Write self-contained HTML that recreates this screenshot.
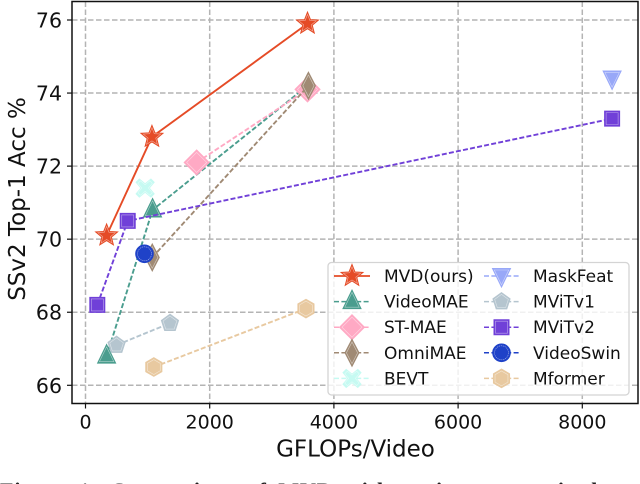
<!DOCTYPE html>
<html>
<head>
<meta charset="utf-8">
<style>
html,body{margin:0;padding:0;background:#fff;width:640px;height:484px;overflow:hidden}
#page{position:absolute;left:0;top:0;width:640px;height:484px;overflow:hidden;background:#fff}
svg{display:block;position:absolute;left:0;top:0;filter:blur(0.35px)}
text{font-family:"DejaVu Sans","Liberation Sans",sans-serif;fill:#111}
#caption{position:absolute;left:0;top:478px;white-space:nowrap;font:bold 22px "Liberation Serif",serif;color:#222;word-spacing:5px;letter-spacing:.9px}
</style>
</head>
<body>
<div id="page">
<svg id="chart" width="640" height="484" viewBox="0 0 640 484" xmlns="http://www.w3.org/2000/svg"></svg>
<div id="caption">Figure 1: Comparison of MVD with various supervised</div>
</div>
<script>
const xTicks = [0, 2000, 4000, 6000, 8000];
const yTicks = [66, 68, 70, 72, 74, 76];
const seriesNames = ['MVD(ours)', 'VideoMAE', 'ST-MAE', 'OmniMAE', 'BEVT', 'MaskFeat', 'MViTv1', 'MViTv2', 'VideoSwin', 'Mformer'];
const mvdX = [340, 1070, 3575];
const mvdY = [70.1, 72.8, 75.9];
const videoMaeX = [340, 1080, 3575];
const videoMaeY = [66.8, 70.8, 74.2];
const stMaeX = [1790, 3575];
const stMaeY = [72.1, 74.1];
const omniMaeX = [1075, 3590];
const omniMaeY = [69.5, 74.2];
const bevtX = [960];
const bevtY = [71.4];
const maskFeatX = [8480];
const maskFeatY = [74.4];
const mvit1X = [500, 1360];
const mvit1Y = [67.1, 67.7];
const mvit2X = [190, 680, 8480];
const mvit2Y = [68.2, 70.5, 73.3];
const swinX = [950];
const swinY = [69.6];
const mformerX = [1100, 3550];
const mformerY = [66.5, 68.1];
const allX = [mvdX, videoMaeX, stMaeX, omniMaeX, bevtX, maskFeatX, mvit1X, mvit2X, swinX, mformerX];
const allY = [mvdY, videoMaeY, stMaeY, omniMaeY, bevtY, maskFeatY, mvit1Y, mvit2Y, swinY, mformerY];
const colors = ['#E54B26', '#4A9D8E', '#FFA9C4', '#A08A74', '#C6FAF2', '#98A8F8', '#B5C5CF', '#7040D8', '#1F42C8', '#E8C9A0'];
const markers = ['star', 'tri', 'dia', 'thin', 'x', 'down', 'pent', 'sq', 'circ', 'hex'];

const NS = 'http://www.w3.org/2000/svg';
const svg = document.getElementById('chart');
const xPos = v => 85.5 + v * 0.0621;
const yPos = v => 20 + (76 - v) * 36.53;
const L = 72, R = 638, T = 1.5, B = 403.5;

function make(tag, attrs, parent) {
  const el = document.createElementNS(NS, tag);
  for (const k in attrs) el.setAttribute(k, attrs[k]);
  (parent || svg).appendChild(el);
  return el;
}
function radial(n, r, start, r2) {
  const pts = [];
  const count = r2 ? n * 2 : n;
  for (let i = 0; i < count; i++) {
    const a = start + i * 2 * Math.PI / count;
    const rad = r2 && i % 2 ? r2 : r;
    pts.push([rad * Math.cos(a), rad * Math.sin(a)]);
  }
  return pts;
}
function shapePoints(kind) {
  const up = -Math.PI / 2;
  if (kind === 'star') return radial(5, 11.5, up, 5);
  if (kind === 'tri') return [[0, -11.5], [9, 7], [-9, 7]];
  if (kind === 'down') return [[0, 11], [9, -7.5], [-9, -7.5]];
  if (kind === 'dia') return [[0, -12.5], [12.5, 0], [0, 12.5], [-12.5, 0]];
  if (kind === 'thin') return [[0, -13.5], [7, 0], [0, 13.5], [-7, 0]];
  if (kind === 'pent') return radial(5, 9, up);
  if (kind === 'hex') return radial(6, 9.3, up);
  if (kind === 'sq') return [[-7.5, -7.5], [7.5, -7.5], [7.5, 7.5], [-7.5, 7.5]];
  if (kind === 'x') {
    const a = 3.2, b = 9;
    return [[-b + a, -b], [0, -a * 1.3], [b - a, -b], [b, -b + a], [a * 1.3, 0], [b, b - a], [b - a, b], [0, a * 1.3], [-b + a, b], [-b, b - a], [-a * 1.3, 0], [-b, -b + a]];
  }
  return null;
}
function drawMarker(parent, kind, color, cx, cy) {
  const pts = shapePoints(kind);
  if (kind === 'circ') {
    make('circle', {cx: cx, cy: cy, r: 8.8, fill: color, stroke: color, 'stroke-width': 1}, parent);
    make('circle', {cx: cx, cy: cy, r: 7, fill: 'none', stroke: '#fff', 'stroke-width': 0.6, 'stroke-opacity': 0.6, 'stroke-dasharray': '1.2 .8'}, parent);
    return;
  }
  const str = s => pts.map(p => (cx + p[0] * s).toFixed(2) + ',' + (cy + p[1] * s).toFixed(2)).join(' ');
  make('polygon', {points: str(1), fill: color, stroke: color, 'stroke-width': 1, 'stroke-linejoin': 'miter'}, parent);
  make('polygon', {points: str(0.8), fill: 'none', stroke: '#fff', 'stroke-width': 0.6, 'stroke-opacity': 0.55}, parent);
}

const grid = make('g', {});


xTicks.forEach(t => {
  const x = xPos(t);
  const line = make('line', {x1: x, x2: x, y1: T, y2: B, stroke: '#b4b4b4', 'stroke-width': 1.5, 'stroke-dasharray': '5.5 2.5'}, grid);
  
  
});
yTicks.forEach(t => {
  const y = yPos(t);
  const line = make('line', {x1: L, x2: R, y1: y, y2: y, stroke: '#b4b4b4', 'stroke-width': 1.5, 'stroke-dasharray': '5.5 2.5'}, grid);
  
  
});

seriesNames.forEach((name, i) => {
  const g = make('g', {});
  
  
  const xs = allX[i], ys = allY[i];
  if (xs.length > 1) {
    const pts = xs.map((v, j) => xPos(v).toFixed(2) + ',' + yPos(ys[j]).toFixed(2)).join(' ');
    const line = make('polyline', {points: pts, fill: 'none', stroke: colors[i], 'stroke-width': 1.9}, g);
    if (i !== 0) line.setAttribute('stroke-dasharray', '5 2.2');
    
    
  }
  xs.forEach((v, j) => {
    const m = make('g', {}, g);
    
    
    drawMarker(m, markers[i], colors[i], xPos(v), yPos(ys[j]));
  });
});

const frame = make('rect', {x: L, y: T, width: R - L, height: B - T, fill: 'none', stroke: '#111', 'stroke-width': 1.5});



xTicks.forEach(t => {
  const x = xPos(t);
  const tick = make('line', {x1: x, x2: x, y1: B, y2: B + 5, stroke: '#111', 'stroke-width': 1.2});
  
  
  const label = make('text', {x: x, y: 428.5, 'text-anchor': 'middle', 'font-size': 19});
  label.textContent = t;
  
  
});
yTicks.forEach(t => {
  const y = yPos(t);
  const tick = make('line', {x1: L - 5, x2: L, y1: y, y2: y, stroke: '#111', 'stroke-width': 1.2});
  
  
  const label = make('text', {x: 62, y: y + 7.5, 'text-anchor': 'end', 'font-size': 20.5});
  label.textContent = t;
  
  
});

const xTitle = make('text', {x: 355.5, y: 456.7, 'text-anchor': 'middle', 'font-size': 23});
xTitle.textContent = 'GFLOPs/Video';


const yTitle = make('text', {x: 0, y: 0, 'text-anchor': 'middle', 'font-size': 23, transform: 'translate(25 199) rotate(-90)'});
yTitle.textContent = 'SSv2 Top-1 Acc %';



const legend = make('g', {});


make('rect', {x: 328, y: 262.5, width: 301, height: 132.5, rx: 3.5, fill: '#fff', 'fill-opacity': 0.8, stroke: '#d4d4d4', 'stroke-width': 1.3}, legend);
seriesNames.forEach((name, i) => {
  const col = i < 5 ? 0 : 1;
  const row = i % 5;
  const y = 276 + row * 25.6;
  const x1 = col ? 484 : 334;
  const x2 = col ? 519 : 370;
  const tx = col ? 533 : 384;
  const entry = make('g', {}, legend);
  
  
  const line = make('line', {x1: x1, x2: x2, y1: y, y2: y, stroke: colors[i], 'stroke-width': i === 0 ? 1.7 : 1.5}, entry);
  if (i !== 0) line.setAttribute('stroke-dasharray', '5 2.4');
  drawMarker(entry, markers[i], colors[i], (x1 + x2) / 2, y);
  const label = make('text', {x: tx, y: y + 6, 'font-size': 17}, entry);
  label.textContent = name;
});
</script>
</body>
</html>
